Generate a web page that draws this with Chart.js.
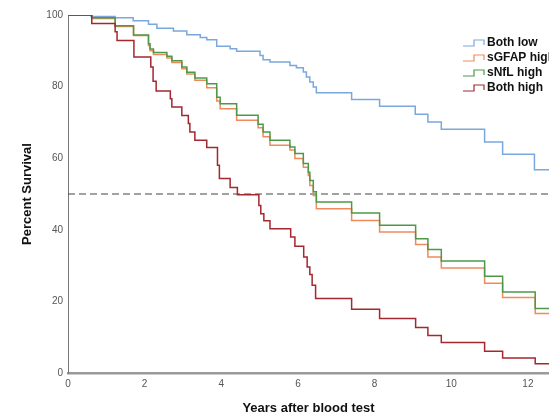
<!DOCTYPE html>
<html>
<head>
<meta charset="utf-8">
<script src="https://cdn.jsdelivr.net/npm/chart.js@4.4.1/dist/chart.umd.min.js"></script>
<style>
  html, body { margin: 0; padding: 0; background: #fff; }
  canvas { display: block; }
</style>
</head>
<body>
<canvas id="km" width="549" height="415"></canvas>
<script>
// Kaplan-Meier curves, values (years, percent surviving)
const groups = ['Both low', 'sGFAP high', 'sNfL high', 'Both high'];
const colors = ['#7aa7dd', '#f08a5a', '#4c9a48', '#a3282f'];

const bothLowYears = [0, 0.6, 1.23, 1.7, 2.1, 2.32, 2.75, 3.1, 3.45, 3.62, 3.88, 4.23, 4.4, 5.01, 5.09, 5.27, 5.79, 5.96, 6.14, 6.22, 6.31, 6.4, 6.48, 7.4, 8.13, 9.06, 9.39, 9.74, 10.87, 11.34, 12.17];
const bothLowPct = [100, 99.6, 99.2, 98.4, 97.4, 96.3, 95.5, 94.5, 93.7, 93.1, 91.3, 90.6, 89.9, 88.7, 87.5, 86.9, 85.9, 85.3, 84.1, 82.7, 81.3, 79.9, 78.3, 76.4, 74.5, 72.3, 70.1, 68.1, 64.5, 61.1, 56.8];

const markerYears = [0, 0.62, 1.23, 1.71, 2.1, 2.14, 2.23, 2.58, 2.71, 2.97, 3.1, 3.31, 3.62, 3.88, 3.97, 4.4, 4.96, 5.09, 5.27, 5.79, 5.92, 6.14, 6.27, 6.31, 6.4, 6.48, 7.4, 8.13, 9.07, 9.39, 9.74, 10.87, 11.34, 12.19];
const sgfapPct = [100, 99.0, 96.8, 94.3, 91.5, 90.0, 89.0, 88.0, 86.7, 85.0, 83.5, 81.8, 79.7, 76.0, 73.8, 70.6, 68.5, 66.0, 63.6, 62.3, 59.9, 57.5, 55.2, 52.4, 49.6, 45.9, 42.6, 39.4, 35.9, 32.4, 29.3, 25.1, 21.1, 16.6];
const snflPct = [100, 99.2, 97.0, 94.4, 92.0, 90.5, 89.5, 88.5, 87.2, 85.5, 84.0, 82.4, 80.8, 77.0, 75.2, 72.0, 69.5, 67.3, 65.0, 63.1, 61.3, 58.5, 56.1, 53.8, 50.6, 47.8, 44.7, 41.3, 37.5, 34.5, 31.3, 27.0, 22.6, 18.0];

const bothHighYears = [0, 0.62, 1.23, 1.28, 1.72, 2.16, 2.22, 2.3, 2.67, 2.71, 2.97, 3.14, 3.18, 3.31, 3.62, 3.9, 3.95, 4.23, 4.42, 4.98, 5.03, 5.11, 5.27, 5.81, 5.92, 6.15, 6.24, 6.31, 6.37, 6.46, 7.4, 8.13, 9.07, 9.39, 9.74, 10.87, 11.34, 12.19];
const bothHighPct = [100, 97.6, 95.3, 92.9, 88.3, 85.5, 81.5, 78.8, 76.6, 74.3, 71.9, 69.7, 67.3, 65.0, 63.0, 58.0, 54.3, 51.8, 49.8, 46.8, 44.5, 42.5, 40.3, 38.0, 35.4, 32.4, 29.6, 27.5, 24.5, 20.8, 17.8, 15.2, 12.7, 10.5, 8.5, 6.1, 4.2, 2.6];

const followUpEnd = 12.55;
const medianLine = 50;
const xTicks = [0, 2, 4, 6, 8, 10, 12];
const yTicks = [0, 20, 40, 60, 80, 100];

const FONT = '"Liberation Sans", Arial, sans-serif';

function steps(years, pct) {
  const pts = years.map((t, i) => ({ x: t, y: pct[i] }));
  pts.push({ x: followUpEnd, y: pct[pct.length - 1] });
  return pts;
}

function curve(i, data, order) {
  return {
    label: groups[i],
    data: data,
    borderColor: colors[i],
    borderWidth: 1.5,
    stepped: true,
    pointRadius: 0,
    fill: false,
    order: order
  };
}

// legend drawn by hand so the step glyph matches the original
const stepLegend = {
  id: 'stepLegend',
  afterDraw(chart) {
    const ctx = chart.ctx;
    ctx.save();
    chart.data.datasets.forEach((ds, i) => {
      if (!ds.label) return;
      const y = 43 + i * 15;
      ctx.strokeStyle = ds.borderColor;
      ctx.lineWidth = 1.2;
      ctx.beginPath();
      ctx.moveTo(463, y + 3);
      ctx.lineTo(474, y + 3);
      ctx.lineTo(474, y - 3);
      ctx.lineTo(484, y - 3);
      ctx.lineTo(484, y + 2);
      ctx.stroke();
      ctx.fillStyle = '#111';
      ctx.font = 'bold 12px ' + FONT;
      ctx.textBaseline = 'middle';
      ctx.fillText(ds.label, 487, y);
    });
    ctx.restore();
  }
};

new Chart(document.getElementById('km').getContext('2d'), {
  type: 'line',
  data: {
    datasets: [
      curve(0, steps(bothLowYears, bothLowPct), 3),
      curve(1, steps(markerYears, sgfapPct), 2),
      curve(2, steps(markerYears, snflPct), 1),
      curve(3, steps(bothHighYears, bothHighPct), 0),
      {
        data: [{ x: 0, y: medianLine }, { x: followUpEnd, y: medianLine }],
        borderColor: '#444',
        borderWidth: 1,
        borderDash: [7, 4],
        pointRadius: 0,
        order: 4
      }
    ]
  },
  options: {
    responsive: false,
    animation: false,
    layout: { padding: { top: 15, right: 0, bottom: 0, left: 0 } },
    plugins: { legend: { display: false }, tooltip: { enabled: false } },
    scales: {
      x: {
        type: 'linear',
        min: 0,
        max: followUpEnd,
        afterFit: s => { s.height = 42; },
        afterBuildTicks: s => { s.ticks = xTicks.map(v => ({ value: v })); },
        grid: { display: false, drawTicks: false },
        border: { display: true, color: '#9a9a9a', width: 2.5 },
        ticks: { padding: 5, color: '#555', font: { family: FONT, size: 10 }, maxRotation: 0 },
        title: {
          display: true,
          text: 'Years after blood test',
          color: '#111',
          font: { family: FONT, size: 13, weight: 'bold', lineHeight: 1 },
          padding: { top: 0, bottom: 0 }
        }
      },
      y: {
        min: 0,
        max: 100,
        afterFit: s => { s.width = 68; },
        afterBuildTicks: s => { s.ticks = yTicks.map(v => ({ value: v })); },
        grid: { display: false, drawTicks: false },
        border: { display: true, color: '#777', width: 1 },
        ticks: { padding: 5, color: '#555', font: { family: FONT, size: 10 } },
        title: {
          display: true,
          text: 'Percent Survival',
          color: '#111',
          font: { family: FONT, size: 13, weight: 'bold', lineHeight: 1 },
          padding: { top: 21, bottom: 0 }
        }
      }
    }
  },
  plugins: [stepLegend]
});
</script>
</body>
</html>
